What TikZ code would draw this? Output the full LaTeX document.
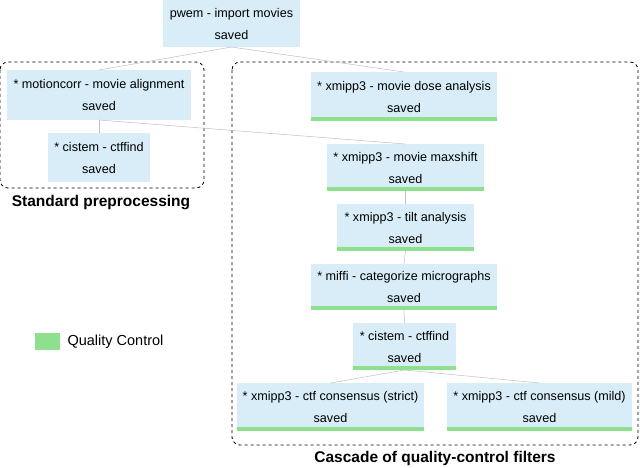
\documentclass[tikz,border=0pt]{standalone}
\usepackage{fontspec}
\setmainfont{Liberation Sans}
\definecolor{boxblue}{HTML}{D8EDF7}
\definecolor{qcgreen}{HTML}{8EE08E}
\begin{document}
\begin{tikzpicture}[x=1pt,y=-1pt,
  proc/.style={fill=boxblue,align=center,font=\fontsize{12.6}{22}\selectfont,inner sep=0pt},
  edge/.style={draw=black!25,line width=0.5pt},
  group/.style={draw,dashed,rounded corners=8pt,line width=0.8pt},
  qc/.style={fill=qcgreen}]
\useasboundingbox (0,0) rectangle (640,468);
\newcommand\pbox[6]{%
  \fill[boxblue] (#2,#3) rectangle (#4,#5);
  \node[proc,fill=none] (#1) at ({(#2+#4)/2},{(#3+#5)/2}) {#6};
  \coordinate (#1t) at ({(#2+#4)/2},#3);
  \coordinate (#1b) at ({(#2+#4)/2},#5);}
\newcommand\qbar[3]{\fill[qcgreen] (#1,#3-4) rectangle (#2,#3);}
\draw[group] (0,62) rectangle (204,188);
\draw[group] (232,62) rectangle (638,445);
\node[font=\bfseries\fontsize{15.5}{18}\selectfont] (lab1) at (101,203) {Standard preprocessing};
\node[font=\bfseries\fontsize{15.5}{18}\selectfont] (lab2) at (435,458) {Cascade of quality-control filters};
\pbox{pwem}{163}{0}{300}{47}{pwem - import movies\\saved}
\pbox{mc}{7}{70}{191}{120}{* motioncorr - movie alignment\\saved}
\pbox{cl}{48}{133}{150}{182}{* cistem - ctffind\\saved}
\pbox{dose}{311}{72}{497}{121}{* xmipp3 - movie dose analysis\\saved}
\qbar{311}{497}{121}
\pbox{ms}{327}{144}{484}{191}{* xmipp3 - movie maxshift\\saved}
\qbar{327}{484}{191}
\pbox{tilt}{337}{204}{474}{251}{* xmipp3 - tilt analysis\\saved}
\qbar{337}{474}{251}
\pbox{miffi}{311}{264}{497}{310}{* miffi - categorize micrographs\\saved}
\qbar{311}{497}{310}
\pbox{cr}{353}{323}{456}{370}{* cistem - ctffind\\saved}
\qbar{353}{456}{370}
\pbox{strict}{237}{383}{424}{431}{* xmipp3 - ctf consensus (strict)\\saved}
\qbar{237}{424}{431}
\pbox{mild}{447}{383}{632}{431}{* xmipp3 - ctf consensus (mild)\\saved}
\qbar{447}{632}{431}
\draw[edge] (pwemb) -- (mct);
\draw[edge] (pwemb) -- (doset);
\draw[edge] (mcb) -- (clt);
\draw[edge] (mcb) -- (mst);
\draw[edge] (msb) -- (tiltt);
\draw[edge] (tiltb) -- (miffit);
\draw[edge] (miffib) -- (crt);
\draw[edge] (crb) -- (strictt);
\draw[edge] (crb) -- (mildt);
\fill[qcgreen] (35,333) rectangle (60,350);
\node[anchor=west,font=\fontsize{14.5}{16}\selectfont] (leg) at (64,341.5) {Quality Control};
\end{tikzpicture}
\end{document}
